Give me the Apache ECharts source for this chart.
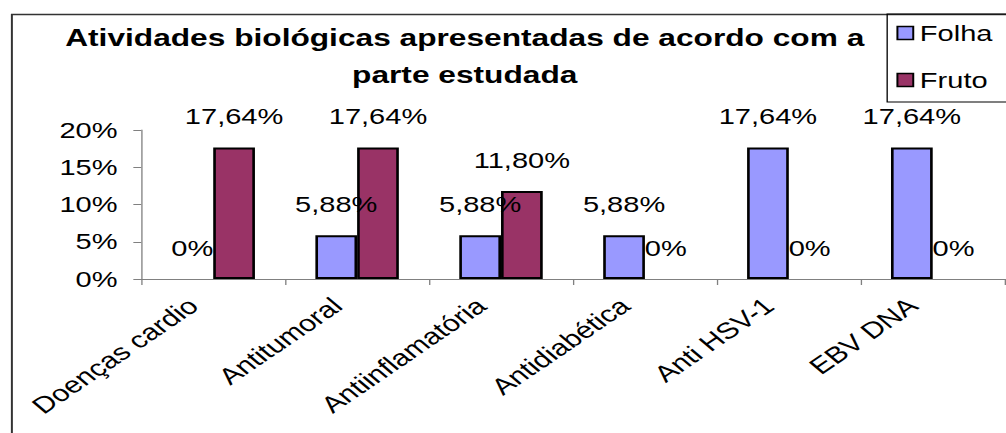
<!DOCTYPE html>
<html>
<head>
<meta charset="utf-8">
<script src="https://cdn.jsdelivr.net/npm/echarts@6/dist/echarts.min.js"></script>
<style>
  html, body { margin: 0; padding: 0; background: #fff; overflow: hidden; }
  /* the source picture is stretched sideways, so the chart is drawn narrower and widened */
  #main { width: 762px; height: 433px; transform: scaleX(1.3202); transform-origin: 0 0; }
</style>
</head>
<body>
<div id="main"></div>
<script>
// categorias
const categories = ['Doenças cardio', 'Antitumoral', 'Antiinflamatória', 'Antidiabética', 'Anti HSV-1', 'EBV DNA']
// valores (%)
const folha = [0, 5.88, 5.88, 5.88, 17.64, 17.64]
const fruto = [17.64, 17.64, 11.8, 0, 0, 0]
// eixo y
const yMin = 0
const yMax = 20
const yStep = 5

const font = 'Arial, "Liberation Sans", sans-serif'

// 17.64 -> "17,64%", 0 -> "0%"
function fmt(v) {
  if (v === 0) return '0%'
  return v.toFixed(2).replace('.', ',') + '%'
}

// barras de valor zero sem contorno (como no Excel)
function toData(arr) {
  return arr.map((v) => (v === 0 ? { value: v, itemStyle: { borderWidth: 0 } } : v))
}

const myChart = echarts.init(document.getElementById('main'), null, { renderer: 'svg' })

const barLabel = {
  show: true,
  position: 'top',
  distance: 20,
  color: '#000',
  fontFamily: font,
  fontSize: 22,
  formatter: (p) => fmt(p.value),
}

const option = {
  animation: false,
  backgroundColor: '#fff',
  textStyle: { fontFamily: font },
  title: {
    text: 'Atividades biológicas apresentadas de acordo com a\nparte estudada',
    left: 352,
    top: 19,
    padding: 0,
    textAlign: 'center',
    textStyle: {
      fontFamily: font,
      fontSize: 24,
      fontWeight: 'bold',
      color: '#000',
      lineHeight: 37,
    },
  },
  legend: {
    orient: 'vertical',
    left: 672,
    top: 14,
    padding: [8, 13, 11, 7],
    itemGap: 25,
    itemWidth: 12,
    itemHeight: 13,
    icon: 'rect',
    borderColor: '#000',
    borderWidth: 1,
    itemStyle: { borderColor: '#000', borderWidth: 1.5 },
    textStyle: { fontFamily: font, fontSize: 22, color: '#000' },
    data: ['Folha', 'Fruto'],
  },
  grid: {
    left: 107,
    right: 1,
    top: 130,
    bottom: 154,
    containLabel: false,
  },
  xAxis: {
    type: 'category',
    data: categories,
    axisLine: { lineStyle: { color: '#808080', width: 1 } },
    axisTick: { show: true, length: 6, lineStyle: { color: '#808080' } },
    axisLabel: {
      rotate: 42,
      margin: 10,
      padding: [0, 20, 0, 0],
      interval: 0,
      color: '#000',
      fontFamily: font,
      fontSize: 23,
    },
  },
  yAxis: {
    type: 'value',
    min: yMin,
    max: yMax,
    interval: yStep,
    splitLine: { show: false },
    axisLine: { show: true, lineStyle: { color: '#808080', width: 1 } },
    axisTick: { show: true, length: 6, lineStyle: { color: '#808080' } },
    axisLabel: {
      margin: 18,
      color: '#000',
      fontFamily: font,
      fontSize: 22,
      formatter: (v) => v + '%',
    },
  },
  series: [
    {
      name: 'Folha',
      type: 'bar',
      data: toData(folha),
      barGap: '0%',
      barCategoryGap: '42%',
      itemStyle: { color: '#9999FF', borderColor: '#000', borderWidth: 2 },
      label: barLabel,
    },
    {
      name: 'Fruto',
      type: 'bar',
      data: toData(fruto),
      barGap: '0%',
      barCategoryGap: '42%',
      itemStyle: { color: '#993366', borderColor: '#000', borderWidth: 2 },
      label: barLabel,
    },
  ],
  // moldura externa
  graphic: [
    {
      type: 'rect',
      left: 6.5,
      top: 12,
      shape: { width: 800, height: 460 },
      style: { fill: 'none', stroke: '#333', lineWidth: 1.5 },
      silent: true,
    },
  ],
}

myChart.setOption(option)
</script>
</body>
</html>
